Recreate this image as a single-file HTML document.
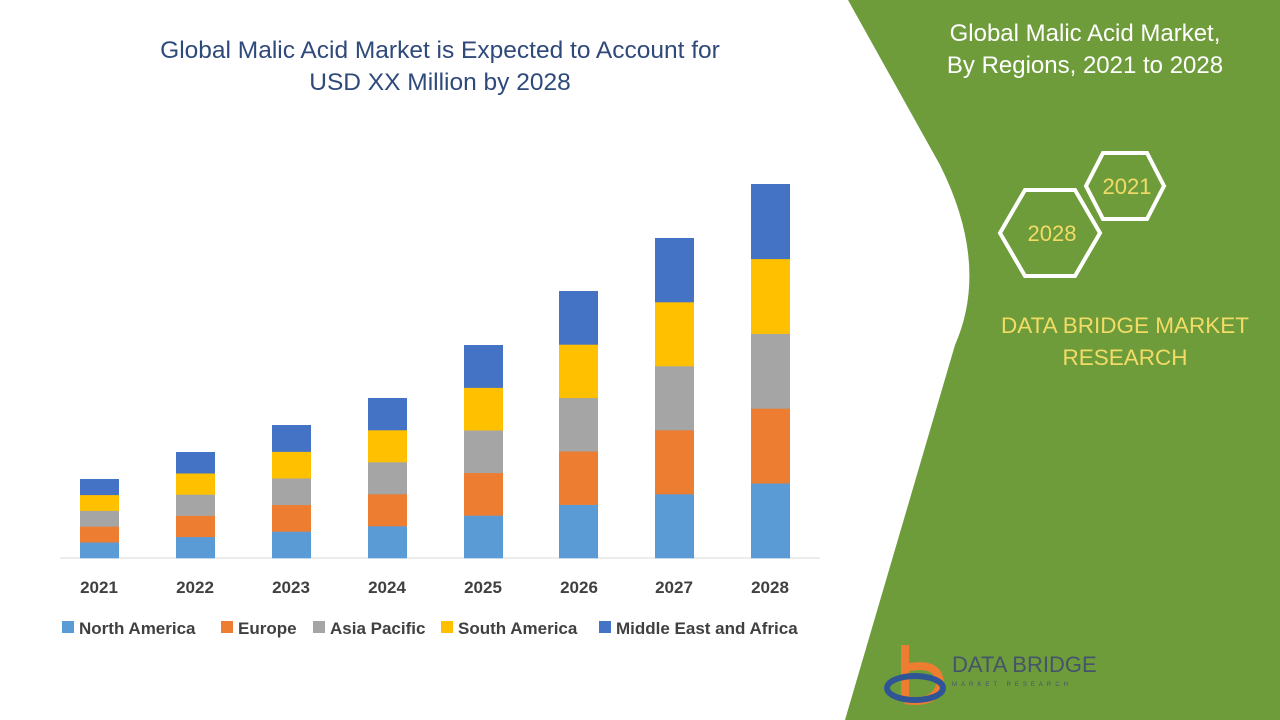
<!DOCTYPE html>
<html><head><style>
body{margin:0;width:1280px;height:720px;overflow:hidden;background:#fff;font-family:"Liberation Sans",sans-serif;position:relative}
.t{position:absolute;text-align:center}
</style></head><body>
<svg width="1280" height="720" style="position:absolute;left:0;top:0">
<path d="M848,0 L1280,0 L1280,720 L845,720 L955,345 Q990,265 940,165 Z" fill="#6f9c3b"/>
<g fill="none" stroke="#fff" stroke-width="4">
<polygon points="1000,233 1025,190 1075,190 1100,233 1075,276 1025,276"/>
<polygon points="1086,186 1103,153 1147,153 1164,186 1147,219 1103,219"/>
</g>
<g font-family="Liberation Sans" font-size="22" fill="#f2dc66" text-anchor="middle">
<text x="1052" y="241">2028</text><text x="1127" y="194">2021</text>
</g>
<line x1="60" y1="558" x2="820" y2="558" stroke="#d9d9d9"/>
<g id="bars"></g>
<g font-family="Liberation Sans" font-size="17" font-weight="bold" fill="#404040" text-anchor="middle">
<text x="99" y="593">2021</text><text x="195" y="593">2022</text><text x="291" y="593">2023</text><text x="387" y="593">2024</text><text x="483" y="593">2025</text><text x="579" y="593">2026</text><text x="674" y="593">2027</text><text x="770" y="593">2028</text>
</g>
<g font-family="Liberation Sans" font-size="17" font-weight="bold" fill="#404040">
<rect x="62" y="621" width="12" height="12" fill="#5b9bd5"/><text x="79" y="634">North America</text>
<rect x="221" y="621" width="12" height="12" fill="#ed7d31"/><text x="238" y="634">Europe</text>
<rect x="313" y="621" width="12" height="12" fill="#a5a5a5"/><text x="330" y="634">Asia Pacific</text>
<rect x="441" y="621" width="12" height="12" fill="#ffc000"/><text x="458" y="634">South America</text>
<rect x="599" y="621" width="12" height="12" fill="#4472c4"/><text x="616" y="634">Middle East and Africa</text>
</g>
<g>
<path d="M905,645 L905,700 M905,668 Q940,660 940,685 Q935,705 905,700" stroke="#ed7d31" stroke-width="8" fill="none"/>
<ellipse cx="915" cy="688" rx="28" ry="12" fill="none" stroke="#2f5597" stroke-width="6"/>
<text x="952" y="672" font-family="Liberation Sans" font-size="22" fill="#44546a">DATA BRIDGE</text>
<text x="952" y="686" font-family="Liberation Sans" font-size="6" fill="#44546a" letter-spacing="4">MARKET RESEARCH</text>
</g>
</svg>
<div class="t" style="left:110px;top:35px;width:660px;font-size:24.5px;color:#2f4a7a;line-height:32px">Global Malic Acid Market is Expected to Account for<br>USD XX Million by 2028</div>
<div class="t" style="left:880px;top:18px;width:410px;font-size:24px;color:#fff;line-height:32px">Global Malic Acid Market,<br>By Regions, 2021 to 2028</div>
<div class="t" style="left:975px;top:310px;width:300px;font-size:22.5px;color:#f2dc66;line-height:32px">DATA BRIDGE MARKET<br>RESEARCH</div>
<script>
var xs=[80,176,272,368,464,559,655,751],tops=[479,452,425,398,345,291,238,184],c=["#5b9bd5","#ed7d31","#a5a5a5","#ffc000","#4472c4"],s="";
for(var i=0;i<8;i++){var h=(558-tops[i])/5;for(var j=0;j<5;j++){s+='<rect x="'+xs[i]+'" y="'+(558-h*(j+1))+'" width="39" height="'+(h+0.3)+'" fill="'+c[j]+'"/>';}}
document.getElementById("bars").innerHTML=s;
</script>
</body></html>
